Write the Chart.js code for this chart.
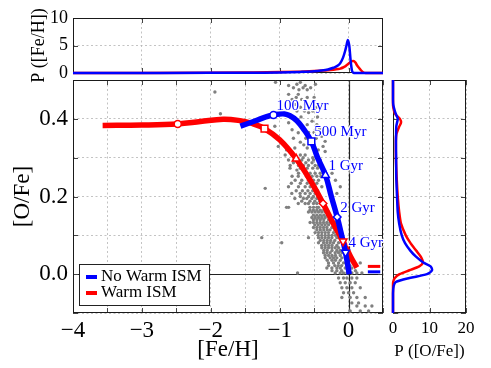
<!DOCTYPE html>
<html>
<head>
<meta charset="utf-8">
<script src="https://cdn.jsdelivr.net/npm/chart.js@4.4.0/dist/chart.umd.min.js"></script>
<style>
  html, body { margin: 0; padding: 0; background: #fff; }
  #wrap { position: relative; width: 491px; height: 368px; }
  canvas { position: absolute; left: 0; top: 0; }
</style>
</head>
<body>
<div id="wrap">
  <canvas id="topChart" width="491" height="368"></canvas>
  <canvas id="sideChart" width="491" height="368"></canvas>
  <canvas id="mainChart" width="491" height="368"></canvas>
</div>
<script>
// ---- [O/Fe] vs [Fe/H] model tracks ----
const noWarmFeH = [-1.57, -1.35, -1.2, -1.09, -0.95, -0.85, -0.75, -0.65, -0.54, -0.45, -0.335, -0.25, -0.165, -0.1, -0.044, 0.01];
const noWarmOFe = [0.381, 0.395, 0.405, 0.41, 0.413, 0.408, 0.395, 0.373, 0.342, 0.3, 0.255, 0.2, 0.147, 0.1, 0.056, 0.0];
const warmFeH = [-3.57, -3.0, -2.48, -2.15, -1.82, -1.6, -1.4, -1.22, -1.0, -0.76, -0.55, -0.37, -0.22, -0.08, 0.03, 0.12];
const warmOFe = [0.383, 0.384, 0.387, 0.393, 0.399, 0.396, 0.388, 0.375, 0.346, 0.297, 0.24, 0.182, 0.13, 0.085, 0.045, 0.017];

// ages marked along the tracks
const ageLabels = ['100 Myr', '500 Myr', '1 Gyr', '2 Gyr', '4 Gyr'];
const noWarmAgeFeH = [-1.09, -0.54, -0.335, -0.165, -0.044];
const noWarmAgeOFe = [0.41, 0.342, 0.255, 0.147, 0.056];
const warmAgeFeH = [-2.48, -1.22, -0.76, -0.37, -0.08];
const warmAgeOFe = [0.387, 0.375, 0.297, 0.182, 0.085];

// short bars at the right edge
const endFeH = [0.28, 0.46];
const noWarmEndOFe = [0.006, 0.006];
const warmEndOFe = [0.02, 0.02];

// observed stars, grouped by [O/Fe] row
const starOFeRows = [
  0.494, 0.489, 0.486, 0.469, 0.463, 0.45, 0.437, 0.416, 0.413, 0.394, 0.39, 0.381, 0.372, 0.364, 0.355, 0.342,
  0.333, 0.329, 0.32, 0.316, 0.307, 0.294, 0.28, 0.268, 0.26, 0.242, 0.225, 0.221, 0.208, 0.2, 0.195, 0.188,
  0.182, 0.172, 0.165, 0.16, 0.152, 0.146, 0.14, 0.133, 0.127, 0.12, 0.114, 0.107, 0.1, 0.094, 0.087, 0.081,
  0.074, 0.068, 0.061, 0.055, 0.048, 0.042, 0.036, 0.029, 0.022, 0.016, 0.009, 0.003,
  -0.01, -0.022, -0.035, -0.048, -0.06, -0.074, -0.082, -0.095,
  0.48, 0.475, 0.455, 0.43, 0.42, 0.405, 0.385, 0.375, 0.365, 0.35, 0.34, 0.325, 0.3, 0.287, 0.273, 0.252, 0.234, 0.215
];
const starFeHRows = [
  [-1.06, -0.70], [-0.75, -0.48], [-0.87, -0.63], [-1.94], [-0.87, -0.73], [-0.82, -0.68], [-0.78, -0.63],
  [-0.58], [-1.86], [-0.53], [-0.87], [-1.07], [-0.82, -0.48], [-0.73], [-0.39], [-0.34],
  [-0.65], [-1.02, -0.37], [-0.90, -0.44], [-0.34],
  [-0.92, -0.824, -0.70, -0.63],
  [-0.872, -0.679, -0.582, -0.509, -0.41],
  [-0.848, -0.727, -0.655, -0.582, -0.485, -0.436],
  [-0.75],
  [-0.727, -0.63, -0.558, -0.485, -0.412, -0.24],
  [-0.775, -0.679, -0.582, -0.509, -0.436, -0.31, -0.19],
  [-0.872, -0.727, -0.63, -0.558, -0.485, -0.388, -0.12],
  [-1.21],
  [-0.824, -0.703, -0.63, -0.558, -0.485, -0.436, -0.17],
  [-0.70, -0.58, -0.51, -0.44],
  [-0.78, -0.655, -0.606, -0.533, -0.46, -0.412],
  [-0.68, -0.56, -0.49, -0.42],
  [-0.73, -0.63, -0.582, -0.509, -0.46, -0.388],
  [-0.90, -0.87, -0.56, -0.509, -0.46, -0.436, -0.339],
  [-0.56, -0.51, -0.46, -0.41, -0.36, -0.31],
  [-0.582, -0.533, -0.485, -0.436, -0.388, -0.339, -0.291],
  [-0.51, -0.46, -0.41, -0.36, -0.31],
  [-0.533, -0.485, -0.436, -0.388, -0.339, -0.267],
  [-0.51, -0.46, -0.41, -0.36, -0.29, -0.24],
  [-0.558, -0.509, -0.46, -0.412, -0.363, -0.315, -0.267, -0.194],
  [-0.49, -0.44, -0.39, -0.34, -0.29, -0.22],
  [-0.509, -0.46, -0.412, -0.363, -0.315, -0.242, -0.194],
  [-0.46, -0.41, -0.36, -0.31, -0.27, -0.2],
  [-0.485, -0.436, -0.388, -0.339, -0.291, -0.218, -0.17],
  [-0.44, -0.39, -0.34, -0.29, -0.24, -0.19],
  [-1.26, -0.582, -0.436, -0.388, -0.339, -0.291, -0.242, -0.17, -0.121],
  [-0.41, -0.36, -0.31, -0.26, -0.2],
  [-0.97, -0.436, -0.363, -0.315, -0.267, -0.218, -0.145, 0.024],
  [-0.39, -0.34, -0.29, -0.24, -0.17],
  [-0.388, -0.339, -0.291, -0.242, -0.194, -0.145, -0.073],
  [-0.36, -0.31, -0.24, -0.17, -0.12],
  [-0.363, -0.315, -0.267, -0.194, -0.145, -0.097],
  [-0.34, -0.29, -0.24, -0.19, -0.12],
  [-0.339, -0.267, -0.218, -0.17, -0.097, 0.048],
  [-0.31, -0.24, -0.19, -0.12],
  [-0.291, -0.218, -0.145, -0.073, 0.0, 0.073, 0.17],
  [-0.29, -0.2, -0.15, -0.1, 0.02],
  [-0.315, -0.242, -0.17, -0.121, -0.048, 0.048],
  [-0.24, -0.17, -0.1, 0.0, 0.1],
  [-0.74, -0.194, -0.121, -0.073, -0.024, 0.048, 0.121, 0.194],
  [-0.145, -0.073, -0.024, 0.048, 0.121],
  [-0.121, -0.048, 0.024, 0.097],
  [-0.097, -0.024, 0.048, 0.17],
  [-0.073, 0.0, 0.073],
  [-0.097, 0.024, 0.121, 0.242],
  [0.048, 0.145],
  [0.121, 0.242, 0.339],
  [0.024, 0.17, 0.291],
  [-0.80, -0.66, -0.55], [-0.72, -0.60], [-0.76, -0.60, -0.50], [-0.70, -0.56, -0.47], [-0.75, -0.64, -0.52],
  [-0.69, -0.45], [-0.60, -0.46], [-0.66, -0.42], [-0.58, -0.50], [-0.80, -0.62, -0.47], [-0.70, -0.55],
  [-0.78, -0.60, -0.50], [-0.66, -0.52], [-0.80, -0.62, -0.53], [-0.85, -0.70, -0.60, -0.52, -0.45],
  [-0.82, -0.73, -0.61, -0.53, -0.46, -0.40], [-0.83, -0.70, -0.60, -0.53, -0.46], [-0.76, -0.67, -0.59, -0.52, -0.45]
];

// ---- P([Fe/H]) (top panel) ----
const pdfFeHGrid = [-4, -3, -2, -1.5, -1, -0.7, -0.5, -0.4, -0.3, -0.22, -0.15, -0.12, -0.08, -0.05, -0.03, -0.01, 0.01, 0.03, 0.05, 0.07, 0.1, 0.12, 0.15, 0.18, 0.2, 0.22, 0.25, 0.3, 0.5];
const pdfFeHNoWarm = [0, 0.01, 0.03, 0.06, 0.1, 0.2, 0.32, 0.45, 0.65, 0.95, 1.4, 1.8, 2.8, 4.0, 5.0, 6.0, 5.0, 2.3, 0.4, 0.05, 0, 0, 0, 0, 0, 0, 0, 0, 0];
const pdfFeHWarm = [0, 0.02, 0.06, 0.1, 0.16, 0.25, 0.35, 0.42, 0.5, 0.6, 0.72, 0.8, 1.0, 1.2, 1.4, 1.6, 1.8, 2.0, 2.15, 2.2, 1.9, 1.45, 0.95, 0.5, 0.25, 0.08, 0.01, 0, 0];

// ---- P([O/Fe]) (side panel) ----
const pdfOFeGrid = [-0.1, -0.05, -0.03, -0.02, -0.01, 0, 0.01, 0.02, 0.03, 0.045, 0.06, 0.08, 0.1, 0.13, 0.16, 0.2, 0.25, 0.3, 0.34, 0.36, 0.38, 0.39, 0.4, 0.41, 0.42, 0.435, 0.45, 0.5];
const pdfOFeNoWarm = [0, 0, 0.2, 0.8, 4.5, 9.3, 10.7, 10.3, 8.3, 6.3, 4.8, 3.3, 2.4, 1.7, 1.3, 1.1, 0.9, 0.85, 0.8, 0.85, 0.9, 1.1, 1.3, 0.9, 0.5, 0.1, 0, 0];
const pdfOFeWarm = [0, 0, 0, 0.05, 0.5, 1.8, 4.5, 7.2, 8.2, 7.6, 6.4, 4.8, 3.5, 2.2, 1.7, 1.3, 1.0, 0.8, 0.8, 0.9, 1.7, 2.2, 1.9, 0.8, 0.3, 0, 0, 0];

const BLUE = '#0000ff';
const RED = '#ff0000';
const GRID = '#b4b4b4';
const DOTS = [2, 2.5];

Chart.defaults.font.family = '"Liberation Serif", "Times New Roman", serif';
Chart.defaults.color = '#000';

const pts = (xs, ys) => xs.map((v, i) => ({ x: v, y: ys[i] }));
const stars = starOFeRows.flatMap((o, i) => starFeHRows[i].map(f => ({ x: f, y: o })));
const markerStyles = ['circle', 'rect', 'triangle', 'rectRot', 'triangle'];
const markerRotation = [0, 0, 0, 0, 180];
const markerRadius = [3.5, 4.8, 4.5, 3.8, 4.5];

const feLabel = v => Number.isInteger(v) ? (v < 0 ? '\u2212' + Math.abs(v) : String(v)) : '';
const ofeLabel = v => {
  const r = Math.round(v * 10);
  return Math.abs(r) % 2 === 0 ? Math.abs(r / 10) === 0 ? '0.0' : (r / 10).toFixed(1) : '';
};

// box round each panel, inward tick marks, optional zero lines
const framePlugin = {
  id: 'frame',
  beforeDatasetsDraw(chart, args, opts) {
    const { ctx, chartArea: a, scales: { x, y } } = chart;
    const step = opts.xStep || 0;
    ctx.save();
    if (opts.zeroLines) {
      ctx.strokeStyle = '#222';
      ctx.lineWidth = 1.2;
      ctx.beginPath();
      const zx = Math.round(x.getPixelForValue(0)) + 0.5;
      const zy = Math.round(y.getPixelForValue(0)) + 0.5;
      ctx.moveTo(zx, a.top); ctx.lineTo(zx, a.bottom);
      ctx.moveTo(a.left, zy); ctx.lineTo(a.right, zy);
      ctx.stroke();
    }
    ctx.strokeStyle = '#444';
    ctx.lineWidth = 1;
    ctx.beginPath();
    x.ticks.forEach(t => {
      if (step && Math.abs(t.value / step - Math.round(t.value / step)) > 1e-6) return;
      const px = Math.round(x.getPixelForValue(t.value)) + 0.5;
      ctx.moveTo(px, a.top); ctx.lineTo(px, a.top + 5);
      ctx.moveTo(px, a.bottom); ctx.lineTo(px, a.bottom - 5);
    });
    y.ticks.forEach(t => {
      const py = Math.round(y.getPixelForValue(t.value)) + 0.5;
      ctx.moveTo(a.left, py); ctx.lineTo(a.left + 5, py);
      ctx.moveTo(a.right, py); ctx.lineTo(a.right - 5, py);
    });
    ctx.stroke();
    ctx.strokeStyle = '#1a1a1a';
    ctx.strokeRect(a.left + 0.5, a.top + 0.5, a.right - a.left - 1, a.bottom - a.top - 1);
    ctx.restore();
  }
};

// age labels next to the No Warm ISM markers
const agePlugin = {
  id: 'ageText',
  afterDatasetsDraw(chart) {
    const { ctx, scales: { x, y } } = chart;
    ctx.save();
    ctx.font = '15px "Liberation Serif"';
    ctx.textBaseline = 'middle';
    ctx.lineJoin = 'round';
    ageLabels.forEach((t, i) => {
      const px = x.getPixelForValue(noWarmAgeFeH[i]) + 3;
      const py = y.getPixelForValue(noWarmAgeOFe[i]) - 9;
      ctx.strokeStyle = '#fff';
      ctx.lineWidth = 2.5;
      ctx.strokeText(t, px, py);
      ctx.fillStyle = BLUE;
      ctx.fillText(t, px, py);
    });
    ctx.restore();
  }
};

// boxed legend in the lower left corner
const legendBoxPlugin = {
  id: 'legendBox',
  afterDatasetsDraw(chart) {
    const { ctx, chartArea: a } = chart;
    const items = chart.data.datasets.filter(d => d.inLegend);
    const x0 = a.left + 6, y0 = a.bottom - 49, w = 130, h = 41;
    ctx.save();
    ctx.fillStyle = '#fff';
    ctx.fillRect(x0, y0, w, h);
    ctx.strokeStyle = '#222';
    ctx.lineWidth = 1;
    ctx.strokeRect(x0 + 0.5, y0 + 0.5, w, h);
    ctx.font = '17px "Liberation Serif"';
    ctx.textBaseline = 'middle';
    items.forEach((d, i) => {
      const cy = y0 + 13 + i * 16;
      ctx.fillStyle = d.borderColor;
      ctx.fillRect(x0 + 7, cy - 2, 11, 4);
      ctx.fillStyle = '#000';
      ctx.fillText(d.label, x0 + 22, cy);
    });
    ctx.restore();
  }
};

const baseOpts = {
  responsive: false,
  animation: false,
  events: []
};

// main panel
new Chart(document.getElementById('mainChart'), {
  type: 'scatter',
  data: {
    datasets: [
      { data: pts(noWarmAgeFeH, noWarmAgeOFe), pointStyle: markerStyles, pointRotation: markerRotation,
        pointRadius: markerRadius, pointBackgroundColor: '#fff', pointBorderColor: BLUE, pointBorderWidth: 1.5, order: 0 },
      { data: pts(warmAgeFeH, warmAgeOFe), pointStyle: markerStyles, pointRotation: markerRotation,
        pointRadius: markerRadius, pointBackgroundColor: '#fff', pointBorderColor: RED, pointBorderWidth: 1.5, order: 0 },
      { label: 'No Warm ISM', inLegend: true, data: pts(noWarmFeH, noWarmOFe), showLine: true,
        borderColor: BLUE, borderWidth: 5.5, pointRadius: 0, tension: 0.4, order: 1 },
      { label: 'Warm ISM', inLegend: true, data: pts(warmFeH, warmOFe), showLine: true,
        borderColor: RED, borderWidth: 5.5, pointRadius: 0, tension: 0.4, order: 2 },
      { data: pts(endFeH, noWarmEndOFe), showLine: true, borderColor: BLUE, borderWidth: 3, pointRadius: 0, order: 3 },
      { data: pts(endFeH, warmEndOFe), showLine: true, borderColor: RED, borderWidth: 3, pointRadius: 0, order: 3 },
      { data: stars, pointRadius: 1.7, pointBackgroundColor: '#808080', pointBorderWidth: 0, order: 5 }
    ]
  },
  options: {
    ...baseOpts,
    layout: { padding: { left: 0, right: 108, top: 80, bottom: 0 } },
    plugins: { legend: { display: false }, tooltip: { enabled: false }, frame: { zeroLines: true } },
    scales: {
      x: {
        type: 'linear', min: -4, max: 0.5,
        afterFit: s => { s.height = 55; },
        ticks: { stepSize: 0.5, padding: 4, font: { size: 23 }, callback: feLabel, autoSkip: false, maxRotation: 0 },
        grid: { color: GRID, lineWidth: 0.8, drawTicks: false },
        border: { display: false, dash: DOTS },
        title: { display: true, text: '[Fe/H]', font: { size: 23 }, padding: { top: 0, bottom: 4 } }
      },
      y: {
        type: 'linear', min: -0.1, max: 0.5,
        afterFit: s => { s.width = 73; },
        ticks: { stepSize: 0.1, padding: 5, font: { size: 23 }, callback: ofeLabel, autoSkip: false },
        grid: { color: GRID, lineWidth: 0.8, drawTicks: false },
        border: { display: false, dash: DOTS },
        title: { display: true, text: '[O/Fe]', font: { size: 23 }, padding: { top: 9, bottom: 0 } }
      }
    }
  },
  plugins: [framePlugin, agePlugin, legendBoxPlugin]
});

// top panel: P([Fe/H])
new Chart(document.getElementById('topChart'), {
  type: 'scatter',
  data: {
    datasets: [
      { data: pts(pdfFeHGrid, pdfFeHNoWarm), showLine: true, borderColor: BLUE, borderWidth: 2.5, pointRadius: 0,
        cubicInterpolationMode: 'monotone', clip: 3, order: 0 },
      { data: pts(pdfFeHGrid, pdfFeHWarm), showLine: true, borderColor: RED, borderWidth: 2.5, pointRadius: 0,
        cubicInterpolationMode: 'monotone', clip: 3, order: 1 }
    ]
  },
  options: {
    ...baseOpts,
    layout: { padding: { left: 0, right: 108, top: 18, bottom: 295 } },
    plugins: { legend: { display: false }, tooltip: { enabled: false }, frame: { xStep: 1 } },
    scales: {
      x: {
        type: 'linear', min: -4, max: 0.5,
        afterFit: s => { s.height = 0; },
        ticks: { display: false, stepSize: 0.5 },
        grid: { color: c => (c.tick && Number.isInteger(c.tick.value)) ? GRID : 'rgba(0,0,0,0)', lineWidth: 0.8, drawTicks: false },
        border: { display: false, dash: DOTS }
      },
      y: {
        type: 'linear', min: 0, max: 10,
        afterFit: s => { s.width = 73; },
        ticks: { stepSize: 5, padding: 5, font: { size: 18 } },
        grid: { color: GRID, lineWidth: 0.8, drawTicks: false },
        border: { display: false, dash: DOTS },
        title: { display: true, text: 'P ([Fe/H])', font: { size: 18 }, padding: { top: 28, bottom: 0 } }
      }
    }
  },
  plugins: [framePlugin]
});

// side panel: P([O/Fe])
new Chart(document.getElementById('sideChart'), {
  type: 'scatter',
  data: {
    datasets: [
      { data: pts(pdfOFeNoWarm, pdfOFeGrid), showLine: true, borderColor: BLUE, borderWidth: 2.5, pointRadius: 0,
        tension: 0.25, clip: 3, order: 0 },
      { data: pts(pdfOFeWarm, pdfOFeGrid), showLine: true, borderColor: RED, borderWidth: 2.5, pointRadius: 0,
        tension: 0.25, clip: 3, order: 1 }
    ]
  },
  options: {
    ...baseOpts,
    layout: { padding: { left: 393, right: 25, top: 80, bottom: 0 } },
    plugins: { legend: { display: false }, tooltip: { enabled: false }, frame: {} },
    scales: {
      x: {
        type: 'linear', min: 0, max: 20,
        afterFit: s => { s.height = 55; },
        ticks: { stepSize: 10, padding: 5, font: { size: 17 }, autoSkip: false, maxRotation: 0 },
        grid: { color: GRID, lineWidth: 0.8, drawTicks: false },
        border: { display: false, dash: DOTS },
        title: { display: true, text: 'P ([O/Fe])', font: { size: 17 }, padding: { top: 0, bottom: 6 } }
      },
      y: {
        type: 'linear', min: -0.1, max: 0.5,
        afterFit: s => { s.width = 0; },
        ticks: { display: false, stepSize: 0.1 },
        grid: { color: GRID, lineWidth: 0.8, drawTicks: false },
        border: { display: false, dash: DOTS }
      }
    }
  },
  plugins: [framePlugin]
});
</script>
</body>
</html>
